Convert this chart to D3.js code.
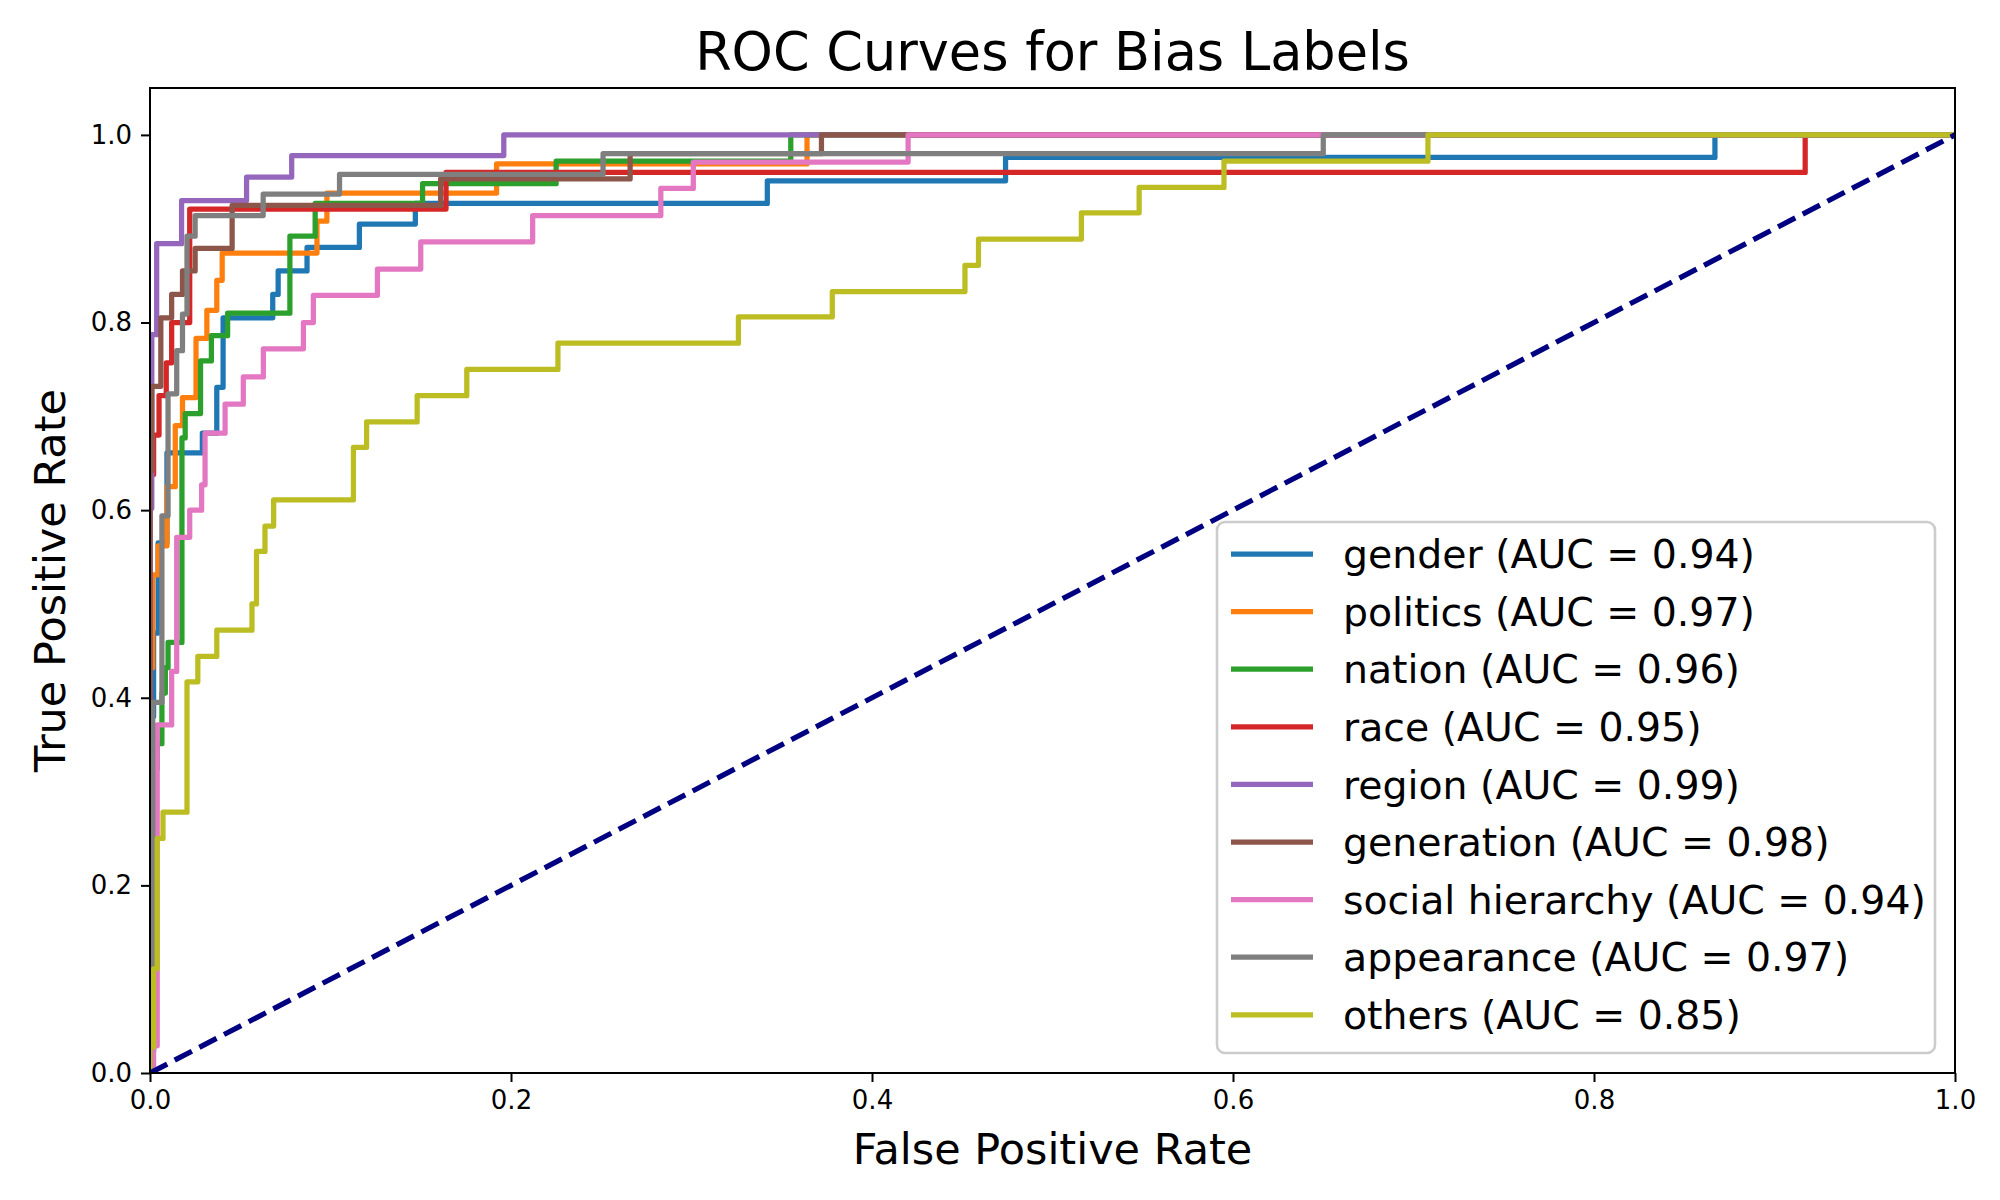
<!DOCTYPE html>
<html>
<head>
    <title>ROC Curves for Bias Labels</title>
    <script src="https://cdnjs.cloudflare.com/ajax/libs/d3/7.8.5/d3.min.js"></script>
    <style>
        body { margin: 0; background: white; }
        text { font-family: "DejaVu Sans", sans-serif; }
    </style>
</head>
<body>
<svg id="chart"></svg>
<script>
    // Labels, AUC values and colours (matplotlib tab10)
    const labels = ["gender", "politics", "nation", "race", "region", "generation", "social hierarchy", "appearance", "others"];
    const aucs = [0.94, 0.97, 0.96, 0.95, 0.99, 0.98, 0.94, 0.97, 0.85];
    const colors = ["#1f77b4", "#ff7f0e", "#2ca02c", "#d62728", "#9467bd", "#8c564b", "#e377c2", "#7f7f7f", "#bcbd22"];

    // ROC points (fpr, tpr); drawn as steps (right, then up)
    const genderFpr = [0, 0, 0.002, 0.0045, 0.0094, 0.029, 0.037, 0.0405, 0.068, 0.071, 0.087, 0.116, 0.147, 0.342, 0.474, 0.867, 1];
    const genderTpr = [0, 0.38, 0.469, 0.565, 0.661, 0.682, 0.731, 0.805, 0.83, 0.855, 0.88, 0.905, 0.927, 0.951, 0.976, 1, 1];

    const politicsFpr = [0, 0, 0.0015, 0.0045, 0.0094, 0.014, 0.018, 0.0255, 0.0315, 0.037, 0.04, 0.0925, 0.098, 0.192, 0.364, 1];
    const politicsTpr = [0, 0.432, 0.531, 0.562, 0.625, 0.69, 0.72, 0.783, 0.813, 0.845, 0.874, 0.908, 0.938, 0.969, 1, 1];

    const nationFpr = [0, 0, 0.002, 0.004, 0.0066, 0.0085, 0.01, 0.0177, 0.0195, 0.028, 0.034, 0.043, 0.0775, 0.0915, 0.151, 0.225, 0.355, 1];
    const nationTpr = [0, 0.023, 0.324, 0.351, 0.405, 0.432, 0.459, 0.677, 0.703, 0.759, 0.786, 0.81, 0.892, 0.927, 0.948, 0.972, 1, 1];

    const raceFpr = [0, 0, 0.002, 0.005, 0.009, 0.012, 0.022, 0.164, 0.917, 1];
    const raceTpr = [0, 0.638, 0.68, 0.722, 0.757, 0.80, 0.921, 0.96, 1, 1];

    const regionFpr = [0, 0, 0.001, 0.0037, 0.0175, 0.0535, 0.0785, 0.196, 1];
    const regionTpr = [0, 0.602, 0.787, 0.884, 0.93, 0.955, 0.978, 1, 1];

    const generationFpr = [0, 0, 0.001, 0.006, 0.012, 0.018, 0.025, 0.0455, 0.161, 0.266, 0.372, 1];
    const generationTpr = [0, 0.642, 0.732, 0.805, 0.83, 0.855, 0.879, 0.925, 0.953, 0.98, 1, 1];

    const socialFpr = [0, 0.002, 0.004, 0.012, 0.0148, 0.022, 0.0286, 0.0305, 0.0416, 0.0517, 0.0628, 0.085, 0.0905, 0.126, 0.15, 0.212, 0.283, 0.301, 0.42, 1];
    const socialTpr = [0, 0.029, 0.371, 0.428, 0.571, 0.60, 0.627, 0.682, 0.713, 0.742, 0.772, 0.80, 0.829, 0.857, 0.886, 0.914, 0.943, 0.971, 1, 1];

    const appearanceFpr = [0, 0, 0.0015, 0.0066, 0.01, 0.0148, 0.018, 0.0205, 0.025, 0.0627, 0.105, 0.251, 0.65, 1];
    const appearanceTpr = [0, 0.08, 0.395, 0.594, 0.724, 0.77, 0.809, 0.892, 0.914, 0.937, 0.958, 0.98, 1, 1];

    const othersFpr = [0, 0, 0.002, 0.004, 0.0072, 0.0205, 0.0265, 0.037, 0.0565, 0.059, 0.0637, 0.0685, 0.1127, 0.12, 0.148, 0.1755, 0.226, 0.326, 0.378, 0.4515, 0.459, 0.516, 0.548, 0.595, 0.708, 1];
    const othersTpr = [0, 0.028, 0.111, 0.25, 0.278, 0.417, 0.444, 0.472, 0.5, 0.556, 0.583, 0.611, 0.667, 0.694, 0.722, 0.75, 0.778, 0.806, 0.833, 0.861, 0.889, 0.917, 0.944, 0.972, 1, 1];

    const ticks = [0, 0.2, 0.4, 0.6, 0.8, 1.0];

    const series = [
        [genderFpr, genderTpr], [politicsFpr, politicsTpr], [nationFpr, nationTpr],
        [raceFpr, raceTpr], [regionFpr, regionTpr], [generationFpr, generationTpr],
        [socialFpr, socialTpr], [appearanceFpr, appearanceTpr], [othersFpr, othersTpr]
    ];

    /* Layout constants */
    let width = 2000,
        height = 1200,
        margin = { top: 88, right: 45, bottom: 127, left: 150 };
    let plotW = width - margin.left - margin.right,
        plotH = height - margin.top - margin.bottom;

    let svg = d3.select("#chart")
        .attr("width", width)
        .attr("height", height);

    let x = d3.scaleLinear().domain([0, 1]).range([0, plotW]);
    let y = d3.scaleLinear().domain([0, 1.05]).range([plotH, 0]);

    let g = svg.append("g")
        .attr("transform", `translate(${margin.left},${margin.top})`);

    g.append("clipPath").attr("id", "clip")
        .append("rect").attr("width", plotW).attr("height", plotH);

    let line = d3.line()
        .x(d => x(d[0]))
        .y(d => y(d[1]))
        .curve(d3.curveStepAfter);

    let curves = g.append("g").attr("clip-path", "url(#clip)");

    series.forEach((s, i) => {
        let pts = s[0].map((f, j) => [f, s[1][j]]);
        curves.append("path")
            .datum(pts)
            .attr("d", line)
            .attr("fill", "none")
            .attr("stroke", colors[i])
            .attr("stroke-width", 5.25)
            .attr("stroke-linejoin", "round")
            .attr("stroke-linecap", "square");
    });

    // chance diagonal
    curves.append("path")
        .datum([[0, 0], [1, 1]])
        .attr("d", d3.line().x(d => x(d[0])).y(d => y(d[1])))
        .attr("fill", "none")
        .attr("stroke", "navy")
        .attr("stroke-width", 5.25)
        .attr("stroke-dasharray", "19.4,8.4");

    // frame
    g.append("rect")
        .attr("width", plotW).attr("height", plotH)
        .attr("fill", "none").attr("stroke", "black").attr("stroke-width", 2);

    // axes
    let xAxis = d3.axisBottom(x).tickValues(ticks).tickFormat(d3.format(".1f"))
        .tickSizeInner(9).tickSizeOuter(0).tickPadding(9);
    let yAxis = d3.axisLeft(y).tickValues(ticks).tickFormat(d3.format(".1f"))
        .tickSizeInner(9).tickSizeOuter(0).tickPadding(9);

    let gx = g.append("g").attr("transform", `translate(0,${plotH})`).call(xAxis);
    let gy = g.append("g").call(yAxis);
    [gx, gy].forEach(a => {
        a.select(".domain").remove();
        a.selectAll(".tick line").attr("stroke", "black").attr("stroke-width", 2);
        a.selectAll(".tick text").attr("font-size", 26).attr("fill", "black")
            .attr("font-family", "DejaVu Sans");
    });

    // titles
    svg.append("text")
        .attr("x", margin.left + plotW / 2).attr("y", 70)
        .attr("text-anchor", "middle").attr("font-size", 52.5)
        .text("ROC Curves for Bias Labels");

    svg.append("text")
        .attr("x", margin.left + plotW / 2).attr("y", 1164)
        .attr("text-anchor", "middle").attr("font-size", 43)
        .text("False Positive Rate");

    svg.append("text")
        .attr("transform", `translate(65,${margin.top + plotH / 2}) rotate(-90)`)
        .attr("text-anchor", "middle").attr("font-size", 43)
        .text("True Positive Rate");

    // legend, lower right
    let legend = svg.append("g");
    legend.append("rect")
        .attr("x", 1217).attr("y", 522)
        .attr("width", 1935 - 1217).attr("height", 1053 - 522)
        .attr("rx", 8).attr("ry", 8)
        .attr("fill", "white").attr("fill-opacity", 0.8)
        .attr("stroke", "#cccccc").attr("stroke-width", 2.6);

    labels.forEach((lab, i) => {
        let ly = 554 + i * 57.6;
        legend.append("line")
            .attr("x1", 1231).attr("x2", 1313)
            .attr("y1", ly).attr("y2", ly)
            .attr("stroke", colors[i]).attr("stroke-width", 5.25);
        legend.append("text")
            .attr("x", 1343).attr("y", ly).attr("dy", "0.36em")
            .attr("font-size", 39.4)
            .text(`${lab} (AUC = ${aucs[i].toFixed(2)})`);
    });
</script>
</body>
</html>
